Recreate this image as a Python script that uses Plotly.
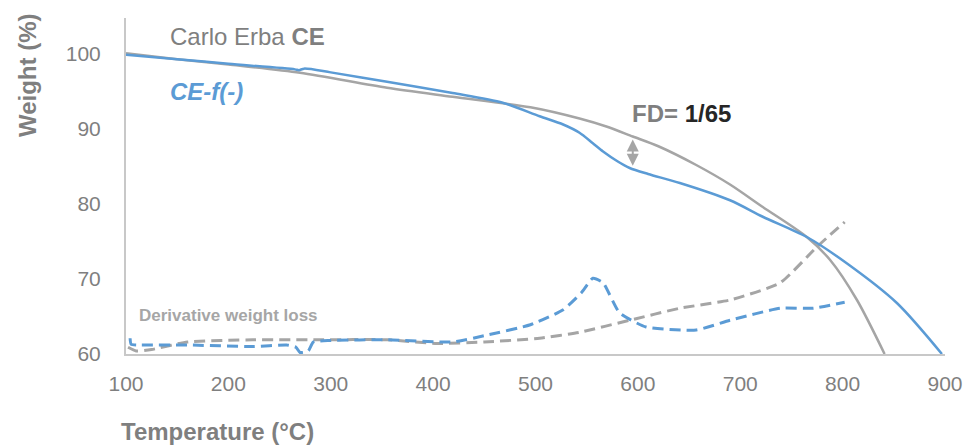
import plotly.graph_objects as go

# Carlo Erba CE (grey solid) weight curve
ce_T = [100, 150, 200, 270, 355, 419, 495, 543, 570, 595, 620, 657, 690, 722, 765, 788, 814, 841]
ce_W = [100.1, 99.3, 98.6, 97.5, 95.5, 94.3, 92.9, 91.4, 90.3, 89.0, 87.7, 85.2, 82.6, 79.6, 75.6, 72.5, 67.2, 60.0]

# CE-f(-) (blue solid) weight curve
cf_T = [100, 150, 200, 265, 269, 274, 300, 355, 419, 468, 504, 527, 543, 556, 566, 580, 592, 610, 641, 690, 722, 765, 804, 853, 897]
cf_W = [99.9, 99.3, 98.7, 97.95, 97.85, 98.05, 97.55, 96.3, 94.8, 93.5, 91.7, 90.6, 89.5, 88.1, 87.0, 85.7, 84.8, 84.0, 82.8, 80.5, 78.3, 75.6, 72.1, 66.8, 60.0]

# Derivative weight loss, CE (grey dashed)
dce_T = [102, 110, 125, 160, 224, 289, 355, 404, 450, 504, 543, 592, 641, 690, 739, 775, 802]
dce_W = [60.9, 60.4, 60.6, 61.6, 61.9, 61.9, 61.9, 61.4, 61.6, 62.1, 62.9, 64.5, 66.1, 67.2, 69.5, 74.3, 77.6]

# Derivative weight loss, CE-f(-) (blue dashed)
dcf_T = [104, 105, 112, 160, 224, 257, 266, 270, 278, 283, 300, 355, 419, 452, 495, 527, 545, 556, 566, 582, 608, 657, 690, 739, 771, 802]
dcf_W = [62.1, 61.3, 61.2, 61.2, 61.0, 61.2, 60.9, 60.2, 60.4, 61.6, 61.8, 61.9, 61.6, 62.5, 63.9, 65.9, 68.2, 70.1, 69.5, 65.5, 63.6, 63.2, 64.5, 66.1, 66.1, 66.9]

x_ticks = [100, 200, 300, 400, 500, 600, 700, 800, 900]
y_ticks = [60, 70, 80, 90, 100]

BLUE = "#5b9bd5"
GREY = "#a5a5a5"
TXT = "#7f7f7f"
FONT = "Liberation Sans Narrow, Arial Narrow, Liberation Sans, Arial"

fig = go.Figure()
fig.add_trace(go.Scatter(x=dce_T, y=dce_W, mode="lines",
                         line=dict(color=GREY, width=3, dash="11px,6px", shape="spline", smoothing=0.5)))
fig.add_trace(go.Scatter(x=dcf_T, y=dcf_W, mode="lines",
                         line=dict(color=BLUE, width=3, dash="11px,6px", shape="spline", smoothing=0.5)))
fig.add_trace(go.Scatter(x=ce_T, y=ce_W, mode="lines",
                         line=dict(color=GREY, width=2.5, shape="spline", smoothing=0.8)))
fig.add_trace(go.Scatter(x=cf_T, y=cf_W, mode="lines",
                         line=dict(color=BLUE, width=2.5, shape="spline", smoothing=0.8)))

fig.update_layout(
    width=966, height=446,
    margin=dict(l=126, r=21, t=18, b=92),
    paper_bgcolor="white", plot_bgcolor="white",
    showlegend=False,
    font=dict(family=FONT, color=TXT),
    xaxis=dict(range=[100, 900], tickvals=x_ticks, showgrid=False, zeroline=False, automargin=False,
               showline=True, linecolor="#c8c8c8", linewidth=2, ticks="",
               tickfont=dict(size=21, color=TXT, family=FONT), ticklabelstandoff=10),
    yaxis=dict(range=[60, 104.8], tickvals=y_ticks, showgrid=False, zeroline=False, automargin=False,
               showline=True, linecolor="#c8c8c8", linewidth=2, ticks="",
               tickfont=dict(size=21, color=TXT, family=FONT), ticklabelstandoff=19),
)

fig.add_annotation(xref="paper", yref="paper", x=-0.121, y=0.83, text="<b>Weight (%)</b>", showarrow=False,
                   textangle=-90, yanchor="middle", xanchor="center", font=dict(size=24, color=TXT, family=FONT))
fig.add_annotation(xref="paper", yref="paper", x=0.112, y=-0.232, text="<b>Temperature (°C)</b>", showarrow=False,
                   xanchor="center", yanchor="middle", font=dict(size=24, color=TXT, family=FONT))
fig.add_annotation(xref="paper", yref="paper", x=0.051, y=0.946, text="Carlo Erba <b>CE</b>", showarrow=False,
                   xanchor="left", yanchor="middle", font=dict(size=24, color=TXT, family=FONT))
fig.add_annotation(xref="paper", yref="paper", x=0.051, y=0.78, text="<b><i>CE-f(-)</i></b>", showarrow=False,
                   xanchor="left", yanchor="middle", font=dict(size=24, color=BLUE, family=FONT))
fig.add_annotation(xref="paper", yref="paper", x=0.615, y=0.717,
                   text="<b>FD= </b><b><span style='color:#262626'>1/65</span></b>",
                   showarrow=False, xanchor="left", yanchor="middle", font=dict(size=24, color=TXT, family=FONT))
fig.add_annotation(xref="paper", yref="paper", x=0.014, y=0.116, text="<b>Derivative weight loss</b>", showarrow=False,
                   xanchor="left", yanchor="middle", font=dict(size=17, color="#a6a6a6", family=FONT))
# double-headed arrow (FD gap)
fig.add_annotation(x=595, y=85.1, ax=595, ay=88.8, xref="x", yref="y", axref="x", ayref="y",
                   text="", showarrow=True, arrowhead=2, arrowside="end+start", arrowsize=1.2,
                   arrowwidth=2, arrowcolor="#a5a5a5")

fig.write_html("out.html")
